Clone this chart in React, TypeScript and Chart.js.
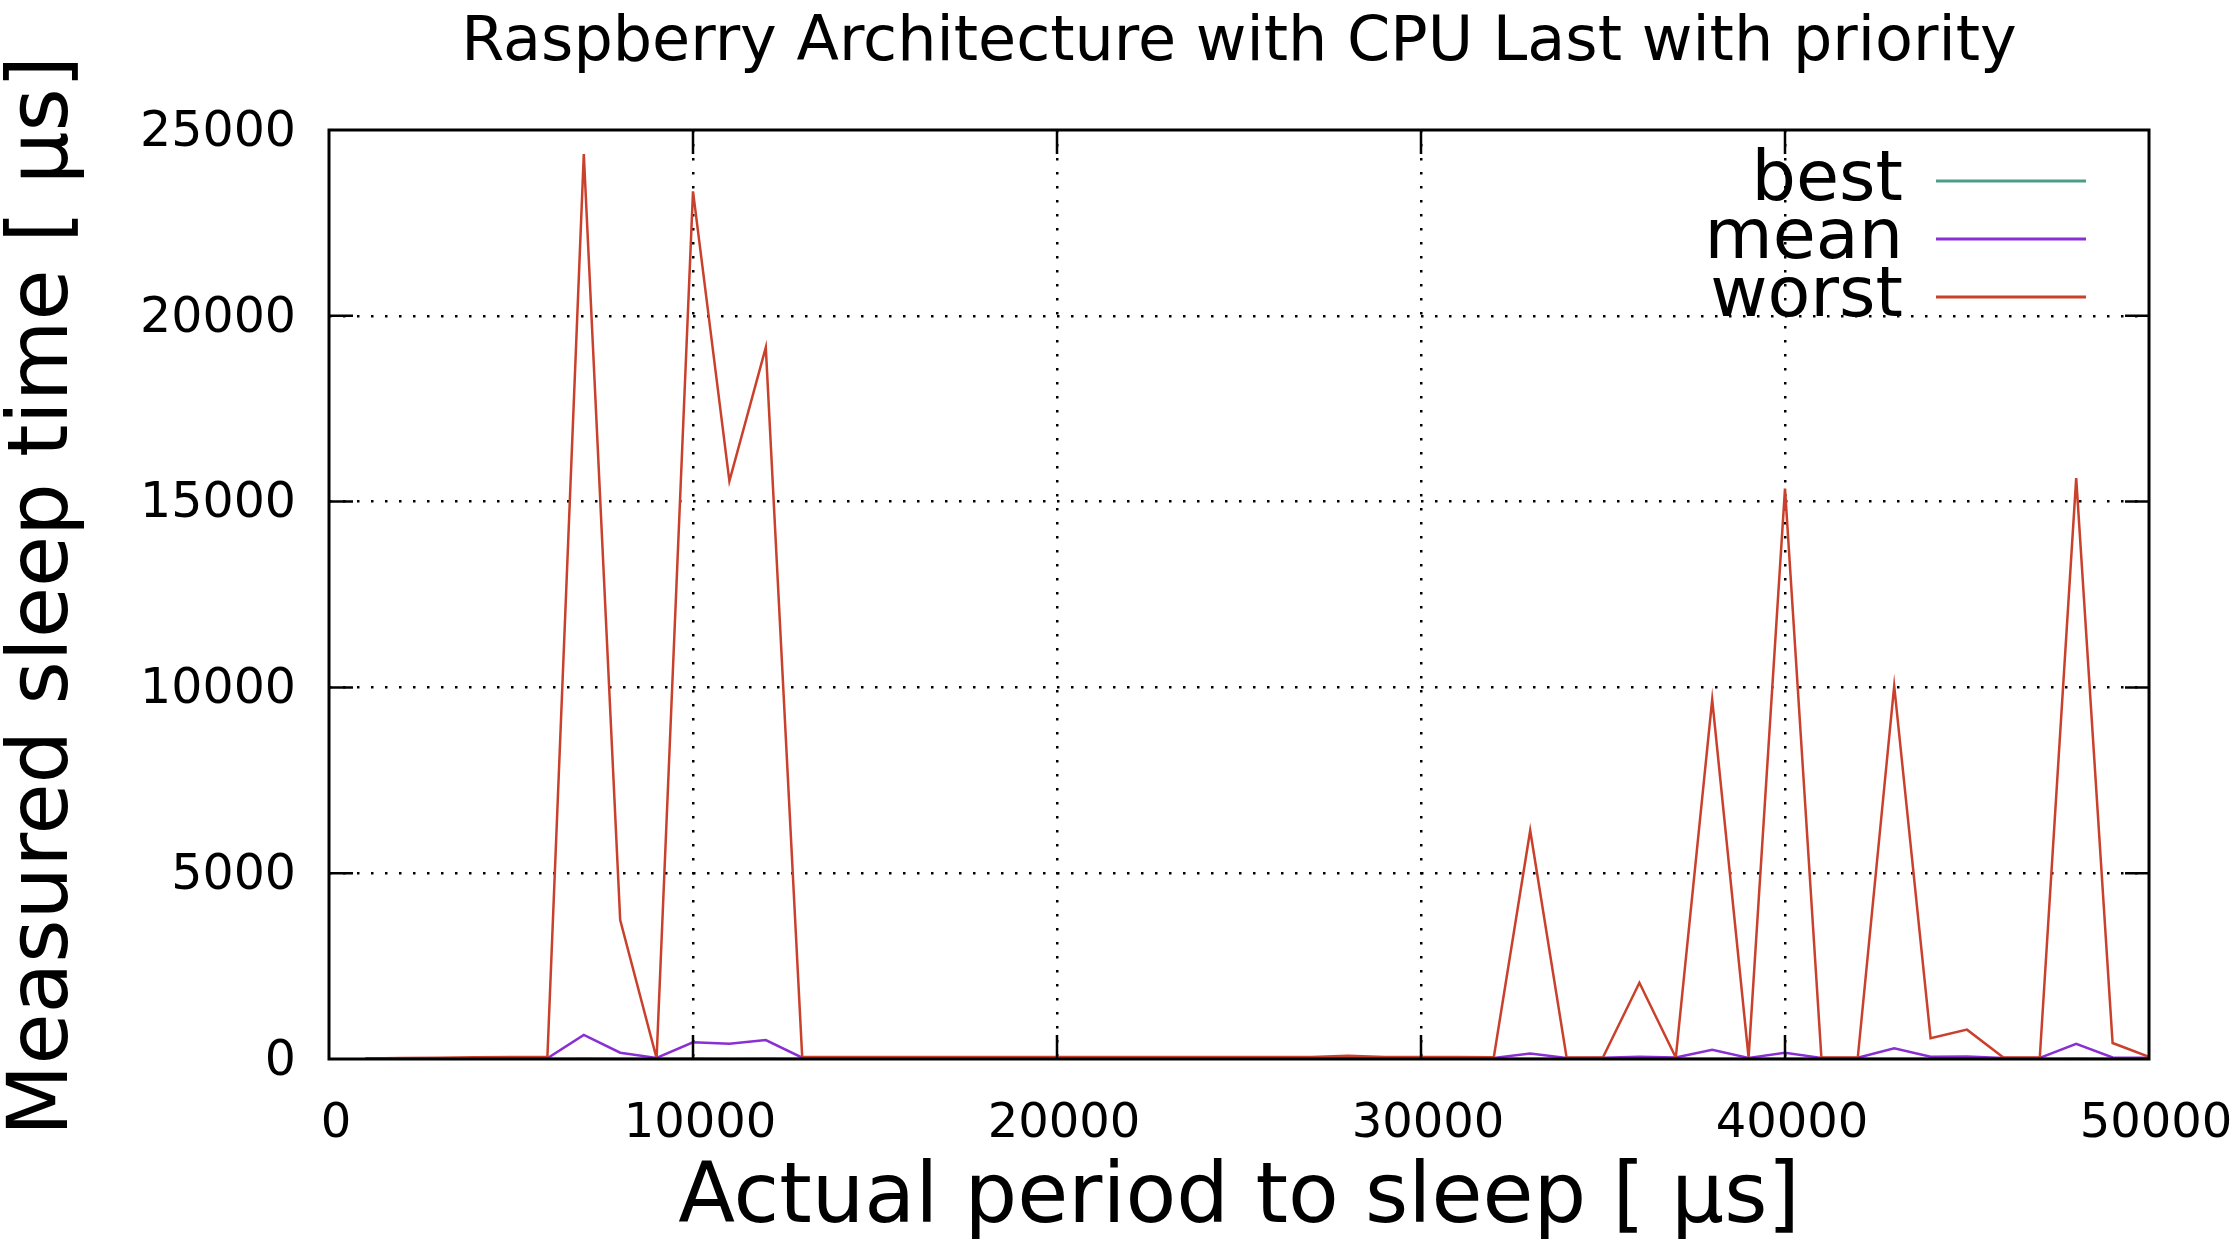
import React, { useEffect, useRef } from "react";
import { Chart, registerables } from "chart.js";

Chart.register(...registerables);

const chartTitle = "Raspberry Architecture with CPU Last with priority";
const xAxisTitle = "Actual period to sleep [ μs]";
const yAxisTitle = "Measured sleep time [ μs]";

const periods = [
  1000, 2000, 3000, 4000, 5000, 6000, 7000, 8000, 9000, 10000,
  11000, 12000, 13000, 14000, 15000, 16000, 17000, 18000, 19000, 20000,
  21000, 22000, 23000, 24000, 25000, 26000, 27000, 28000, 29000, 30000,
  31000, 32000, 33000, 34000, 35000, 36000, 37000, 38000, 39000, 40000,
  41000, 42000, 43000, 44000, 45000, 46000, 47000, 48000, 49000, 50000,
];

const best = [
  5, 6, 6, 7, 8, 9, 12, 10, 8, 11,
  10, 11, 8, 7, 7, 7, 7, 7, 7, 7,
  7, 7, 7, 7, 7, 7, 7, 8, 7, 7,
  7, 7, 9, 7, 7, 8, 7, 10, 7, 9,
  7, 7, 10, 8, 8, 7, 7, 11, 8, 7,
];

const mean = [
  5, 8, 10, 12, 15, 20, 650, 170, 30, 450,
  410, 510, 35, 30, 30, 30, 30, 30, 30, 30,
  30, 30, 30, 30, 30, 30, 30, 35, 30, 30,
  30, 30, 150, 30, 35, 60, 40, 250, 30, 170,
  30, 35, 290, 60, 70, 30, 30, 410, 40, 35,
];

const worst = [
  15, 25, 35, 45, 55, 60, 24350, 3740, 20, 23350,
  15550, 19150, 55, 55, 55, 55, 55, 55, 55, 55,
  55, 55, 55, 55, 55, 55, 55, 90, 55, 55,
  55, 50, 6150, 40, 45, 2050, 40, 9670, 35, 15350,
  40, 45, 10040, 560, 790, 40, 45, 15630, 430, 60,
];

const seriesNames = ["best", "mean", "worst"];
const seriesColors = ["#4a9e88", "#8a2fd3", "#c9402c"];

const xTickStep = 10000;
const yTickStep = 5000;
const xMax = 50000;
const yMax = 25000;

const FONT = '"DejaVu Sans"';

export default function App() {
  const ref = useRef<HTMLCanvasElement | null>(null);

  useEffect(() => {
    const canvas = ref.current;
    if (!canvas) return;

    const seriesData = [best, mean, worst];

    const framePlugin = {
      id: "gnuplotFrame",
      afterDatasetsDraw(chart: any) {
        const { ctx, chartArea: a, scales } = chart;
        const xs = scales.x;
        const ys = scales.y;
        ctx.save();
        ctx.strokeStyle = "#000";
        ctx.lineWidth = 2.5;
        const tl = 24;
        for (let v = yTickStep; v < yMax; v += yTickStep) {
          const y = ys.getPixelForValue(v);
          ctx.beginPath();
          ctx.moveTo(a.left, y);
          ctx.lineTo(a.left + tl, y);
          ctx.moveTo(a.right, y);
          ctx.lineTo(a.right - tl, y);
          ctx.stroke();
        }
        for (let v = xTickStep; v < xMax; v += xTickStep) {
          const x = xs.getPixelForValue(v);
          ctx.beginPath();
          ctx.moveTo(x, a.bottom);
          ctx.lineTo(x, a.bottom - tl);
          ctx.moveTo(x, a.top);
          ctx.lineTo(x, a.top + tl);
          ctx.stroke();
        }
        ctx.lineWidth = 3;
        ctx.strokeRect(a.left, a.top, a.right - a.left, a.bottom - a.top);

        // legend
        ctx.font = `70px ${FONT}`;
        ctx.fillStyle = "#000";
        ctx.textAlign = "right";
        ctx.textBaseline = "alphabetic";
        for (let i = 0; i < seriesNames.length; i++) {
          const base = 200 + i * 58;
          ctx.fillText(seriesNames[i], 1903, base);
          ctx.strokeStyle = seriesColors[i];
          ctx.lineWidth = 3;
          ctx.beginPath();
          ctx.moveTo(1936, base - 19);
          ctx.lineTo(2086, base - 19);
          ctx.stroke();
        }

        // titles
        ctx.fillStyle = "#000";
        ctx.textAlign = "center";
        ctx.font = `62px ${FONT}`;
        ctx.fillText(chartTitle, (a.left + a.right) / 2, 60);
        ctx.font = `83px ${FONT}`;
        ctx.fillText(xAxisTitle, (a.left + a.right) / 2, 1222);
        ctx.save();
        ctx.translate(67, 596);
        ctx.rotate(-Math.PI / 2);
        ctx.font = `83px ${FONT}`;
        ctx.fillText(yAxisTitle, 0, 0);
        ctx.restore();
        ctx.restore();
      },
    };

    const gridColor = (max: number) => (c: any) =>
      c.tick && (c.tick.value === 0 || c.tick.value === max) ? "rgba(0,0,0,0)" : "#000";

    const chart = new Chart(canvas, {
      type: "line",
      data: {
        datasets: seriesNames.map((name, i) => ({
          label: name,
          data: periods.map((p, j) => ({ x: p, y: seriesData[i][j] })),
          borderColor: seriesColors[i],
          backgroundColor: seriesColors[i],
          borderWidth: 2.5,
          pointRadius: 0,
          tension: 0,
          fill: false,
          order: 2 - i,
        })),
      },
      options: {
        responsive: false,
        animation: false,
        layout: { padding: { top: 130, right: 91, left: 0, bottom: 0 } },
        plugins: {
          legend: { display: false },
          title: { display: false },
          tooltip: { enabled: false },
        },
        scales: {
          x: {
            type: "linear",
            min: 0,
            max: xMax,
            afterFit: (s: any) => {
              s.height = 190;
              s.paddingLeft = 0;
              s.paddingRight = 0;
            },
            ticks: {
              stepSize: xTickStep,
              autoSkip: false,
              maxRotation: 0,
              padding: 37,
              labelOffset: 7,
              color: "#000",
              font: { family: "DejaVu Sans", size: 48 },
              callback: (v: any) => String(v),
            },
            grid: { color: gridColor(xMax), lineWidth: 2.5, drawTicks: false },
            border: { display: false, dash: [2.5, 11.5] },
          },
          y: {
            type: "linear",
            min: 0,
            max: yMax,
            afterFit: (s: any) => {
              s.width = 329;
              s.paddingTop = 0;
              s.paddingBottom = 0;
            },
            ticks: {
              stepSize: yTickStep,
              autoSkip: false,
              padding: 33,
              labelOffset: 3,
              color: "#000",
              font: { family: "DejaVu Sans", size: 49 },
              callback: (v: any) => String(v),
            },
            grid: { color: gridColor(yMax), lineWidth: 2.5, drawTicks: false },
            border: { display: false, dash: [2.5, 11.5] },
          },
        },
      },
      plugins: [framePlugin],
    } as any);

    return () => chart.destroy();
  }, []);

  return (
    <div style={{ position: "fixed", left: 0, top: 0, width: 2240, height: 1249, background: "#fff" }}>
      <canvas ref={ref} width={2240} height={1249} style={{ width: 2240, height: 1249, display: "block" }} />
    </div>
  );
}
